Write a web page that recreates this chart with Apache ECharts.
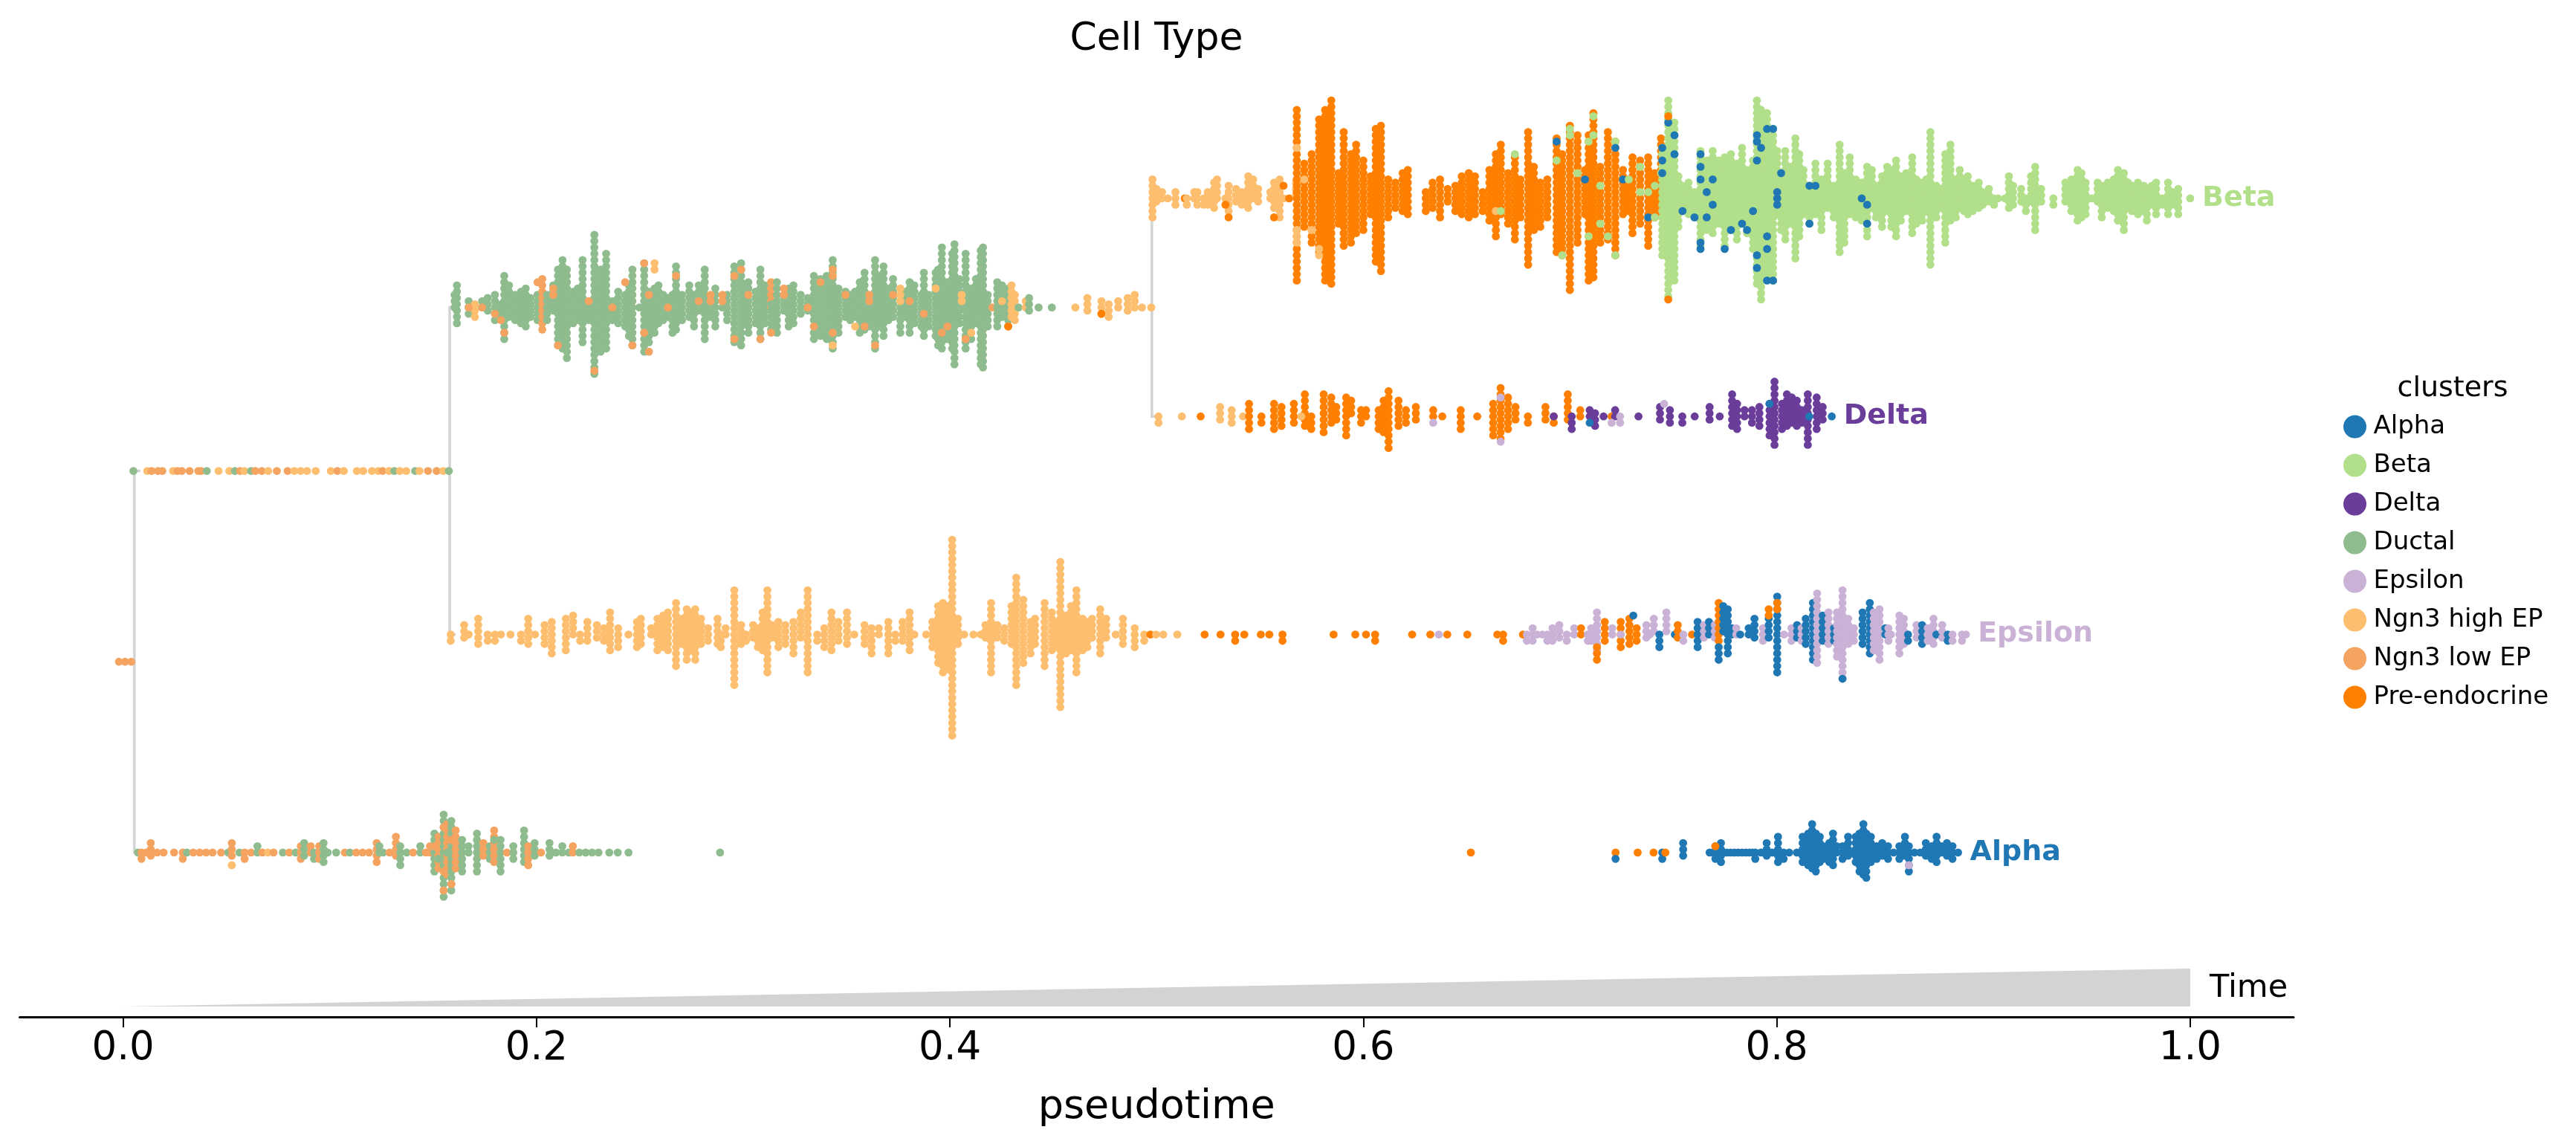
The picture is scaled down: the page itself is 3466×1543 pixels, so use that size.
<!DOCTYPE html>
<html>
<head>
<meta charset="utf-8">
<script src="https://cdn.jsdelivr.net/npm/echarts@6/dist/echarts.min.js"></script>
<style>html,body{margin:0;padding:0;background:#fff}#c{width:3466px;height:1543px}</style>
</head>
<body>
<div id="c"></div>
<script>
// ---------------- data ----------------
const clusters = ['Alpha','Beta','Delta','Ductal','Epsilon','Ngn3 high EP','Ngn3 low EP','Pre-endocrine'];
const tickValues = [0.0, 0.2, 0.4, 0.6, 0.8, 1.0];

// tree nodes: [pseudotime, child level top, child level bottom]
const treeLinks = [[0.0055,1.25,3],[0.158,0.5,2],[0.4977,0,1]];
// leaf / segment levels (dendrogram order)
const levelRoot = 2.125, levelSeg1 = 1.25, levelSeg2 = 0.5;
const levelBeta = 0, levelDelta = 1, levelEps = 2, levelAlpha = 3;

// swarm columns: [pseudotime, dots above, dots below, cluster index]
const rootCols = [[-0.002,0,0,6],[0.001,0,0,6],[0.004,0,0,6]];

const seg1Cols = [[0.005,0,0,3],[0.0117,0,0,5],[0.0138,0,0,6],[0.0169,0,0,6],[0.019,0,0,6],[0.0242,0,0,5],[0.0263,0,0,6],[0.0284,0,0,6],[0.0322,0,0,6],[0.0364,0,0,6],[0.0378,0,0,6],[0.0405,0,0,3],[0.0462,0,0,5],[0.0514,0,0,5],[0.0541,0,0,3],[0.0566,0,0,6],[0.0587,0,0,5],[0.0619,0,0,3],[0.064,0,0,6],[0.0671,0,0,6],[0.0702,0,0,5],[0.0744,0,0,6],[0.0796,0,0,6],[0.0828,0,0,5],[0.0859,0,0,5],[0.089,0,0,5],[0.0932,0,0,5],[0.1005,0,0,5],[0.1037,0,0,6],[0.1068,0,0,5],[0.1131,0,0,5],[0.1162,0,0,5],[0.1204,0,0,5],[0.1235,0,0,5],[0.1256,0,0,6],[0.1287,0,0,5],[0.1312,0,0,3],[0.1339,0,0,5],[0.137,0,0,5],[0.1413,0,0,3],[0.1434,0,0,5],[0.1475,0,0,6],[0.1517,0,0,6],[0.1549,0,0,5],[0.1576,0,0,3]];

const alphaCols = [[0.0072,0,0,3],[0.0089,0,1,6],[0.0113,0,0,6],[0.0134,1,1,6],[0.0165,0,0,6],[0.0196,0,0,6],[0.0247,0,0,6],[0.0289,0,1,6],[0.0309,0,0,3],[0.034,0,0,6],[0.0371,0,0,6],[0.0402,0,0,6],[0.0433,0,0,6],[0.0474,0,0,6],[0.0509,0,0,3],[0.0526,1,1,6],[0.0563,0,0,3],[0.0588,0,1,6],[0.0619,0,0,6],[0.065,1,0,3],[0.0674,0,0,6],[0.0701,0,0,5],[0.0728,0,0,6],[0.0773,0,0,3],[0.0804,0,0,6],[0.0835,0,0,3],[0.086,1,1,6],[0.0876,1,1,3],[0.0908,1,0,6],[0.0924,0,1,3],[0.0949,1,1,6],[0.097,1,2,3],[0.099,0,0,3],[0.1031,0,0,3],[0.1073,0,0,6],[0.1097,0,0,3],[0.1128,0,0,6],[0.1159,0,0,6],[0.119,0,0,6],[0.1227,1,2,6],[0.124,1,0,3],[0.1258,0,0,3],[0.1289,0,0,6],[0.132,2,1,6],[0.1341,1,2,3],[0.1372,0,0,3],[0.1403,0,0,6],[0.1438,1,0,3],[0.1465,0,0,6],[0.1485,1,0,6],[0.1506,3,3,3],[0.1526,2,3,6],[0.1551,6,7,3],[0.1568,4,4,6],[0.1588,5,6,3],[0.1609,3,3,6],[0.164,2,3,3],[0.1671,1,0,3],[0.1712,3,3,3],[0.1743,1,1,6],[0.1774,1,1,3],[0.1795,3,2,6],[0.1826,2,3,3],[0.1857,0,0,6],[0.1888,1,1,3],[0.194,3,2,3],[0.196,1,2,6],[0.1991,1,1,3],[0.2022,0,0,6],[0.2063,1,1,3],[0.2094,0,0,3],[0.2125,1,0,3],[0.2156,0,0,3],[0.2176,1,0,6],[0.2207,0,0,3],[0.2238,0,0,3],[0.2269,0,0,3],[0.23,0,0,3],[0.2352,0,0,3],[0.2393,0,0,3],[0.2445,0,0,3],[0.2888,0,0,3],
[0.652,0,0,7],[0.722,0,0,7],[0.7327,0,0,7],[0.7404,0,0,7],[0.7446,0,1,0],[0.7547,1,1,0],[0.7675,0,0,0],[0.7689,0,0,0],[0.7703,1,1,0],[0.773,1,2,0],[0.7758,0,0,0],[0.7776,0,0,0],[0.7795,0,0,0],[0.7813,0,0,0],[0.7832,0,0,0],[0.785,0,0,0],[0.7868,0,0,0],[0.7882,0,0,0],[0.7896,0,1,0],[0.7923,0,0,0],[0.7937,0,0,0],[0.7951,1,1,0],[0.7978,0,0,0],[0.8006,2,2,0],[0.8033,0,1,0],[0.806,0,0,0],[0.8097,0,0,0],[0.8125,2,2,0],[0.8152,3,2,0],[0.8171,4,3,0],[0.8189,3,3,0],[0.8208,2,2,0],[0.8226,1,1,0],[0.8254,1,2,0],[0.8272,3,2,0],[0.829,1,0,0],[0.8318,1,1,0],[0.8345,2,1,0],[0.8364,0,0,0],[0.8382,2,2,0],[0.84,3,3,0],[0.8419,4,4,0],[0.8433,3,4,0],[0.8455,2,2,0],[0.8483,1,1,0],[0.851,1,1,0],[0.8538,1,1,0],[0.8565,0,0,0],[0.8593,1,1,0],[0.862,2,1,0],[0.8639,1,3,0],[0.8666,0,0,0],[0.8694,0,0,0],[0.8721,1,1,0],[0.8749,1,1,0],[0.8773,2,2,0],[0.8795,1,0,0],[0.8823,1,1,0],[0.885,1,1,0],[0.8877,0,0,0]];
// single overlay dots: [pseudotime, dot index (+ up / - down), cluster index]
const alphaAcc = [[0.0526,-2,5],[0.1506,1,6],[0.1551,4,6],[0.1551,-3,6],[0.1551,-6,6],[0.1588,2,6],[0.1588,-5,6],[0.1526,-1,3],[0.1568,0,3],[0.1795,2,3],[0.722,-1,0],[0.7461,0,7],[0.7703,1,7],[0.8639,-2,4]];

const seg2Cols = [[0.1604,2,0,3],[0.1615,3,3,3],[0.1672,1,1,3],[0.1702,0,2,5],[0.1737,1,0,3],[0.1764,1,1,3],[0.1799,2,2,3],[0.1828,0,2,3],[0.1844,5,5,3],[0.1867,3,2,3],[0.1897,2,2,3],[0.1925,2,3,3],[0.1948,3,3,3],[0.1971,1,2,3],[0.2005,2,2,3],[0.2028,4,4,6],[0.2051,2,2,3],[0.2081,3,1,3],[0.2104,6,6,3],[0.2126,7,7,3],[0.2147,6,8,3],[0.2177,2,3,3],[0.22,3,2,3],[0.2223,7,6,3],[0.2253,1,2,3],[0.228,11,11,3],[0.231,6,7,3],[0.2337,8,7,3],[0.2367,1,2,3],[0.2395,2,3,3],[0.2429,2,3,3],[0.2447,3,5,3],[0.2464,6,6,3],[0.2498,0,0,3],[0.2521,7,7,3],[0.2544,2,6,3],[0.2571,3,4,3],[0.259,3,3,3],[0.2613,2,2,3],[0.2636,1,2,3],[0.2658,2,4,3],[0.2675,6,4,3],[0.2704,2,2,3],[0.2739,3,2,3],[0.2762,2,3,3],[0.2785,3,1,3],[0.2814,6,5,3],[0.2842,0,2,3],[0.2865,3,3,3],[0.2899,0,0,3],[0.2922,2,2,3],[0.2957,6,6,3],[0.299,7,6,3],[0.3002,3,3,3],[0.3025,4,4,3],[0.306,2,3,3],[0.3083,6,5,3],[0.3106,3,3,3],[0.3135,4,0,6],[0.3135,0,4,3],[0.3163,4,4,3],[0.3197,1,1,3],[0.322,3,3,3],[0.3243,3,3,3],[0.3278,2,1,3],[0.3312,1,1,3],[0.3342,5,5,3],[0.3374,4,5,3],[0.3404,5,5,3],[0.3433,7,7,3],[0.3461,3,4,3],[0.3495,2,2,3],[0.3518,2,2,3],[0.3541,2,2,3],[0.3564,4,4,3],[0.3587,5,4,3],[0.361,0,3,3],[0.3638,7,7,3],[0.3661,5,3,3],[0.3679,6,5,3],[0.3702,3,2,3],[0.3725,4,2,3],[0.376,0,4,3],[0.3787,2,2,3],[0.3805,4,4,3],[0.3828,3,3,3],[0.3862,2,3,3],[0.3874,5,5,3],[0.3897,2,3,3],[0.3931,5,5,3],[0.3943,6,6,3],[0.3961,9,7,3],[0.3988,4,5,3],[0.4011,8,7,3],[0.4022,10,9,3],[0.4046,4,3,3],[0.4057,0,0,3],[0.4076,8,7,3],[0.4103,3,5,3],[0.4126,4,3,3],[0.4149,9,9,3],[0.416,9,10,3],[0.4183,2,3,3],[0.4206,0,0,6],[0.4229,4,3,3],[0.4252,3,2,3],[0.4282,3,3,3],[0.4298,3,2,5],[0.4314,2,2,5],[0.4332,0,0,3],[0.4367,1,0,5],[0.4383,1,1,3],[0.4429,0,0,3],[0.4493,0,0,3],[0.4607,0,0,5],[0.4665,1,1,5],[0.4733,1,1,5],[0.4768,0,2,5],[0.4814,1,0,5],[0.486,1,1,5],[0.4894,2,0,5],[0.4929,0,0,5],[0.4974,0,0,5]];
const seg2Acc = [[0.1672,0,6],[0.1737,0,6],[0.1799,-1,6],[0.1828,-2,6],[0.1844,-4,6],[0.2005,4,6],[0.2081,2,6],[0.2081,3,6],[0.2104,-6,6],[0.2253,1,6],[0.228,-10,6],[0.2367,0,6],[0.2429,4,6],[0.2464,-6,6],[0.2521,7,6],[0.2521,-4,6],[0.2544,2,6],[0.2544,-7,6],[0.2571,6,5],[0.2571,7,5],[0.2636,0,6],[0.2675,5,6],[0.2785,1,6],[0.2842,1,6],[0.2842,2,6],[0.2899,1,6],[0.2899,2,6],[0.2957,5,6],[0.2957,-5,6],[0.299,6,6],[0.3025,2,6],[0.3083,-5,6],[0.3135,-4,6],[0.3197,2,6],[0.3197,3,6],[0.3312,0,6],[0.3342,-3,6],[0.3374,4,6],[0.3433,6,6],[0.3433,5,6],[0.3433,-4,6],[0.3433,-6,5],[0.3495,2,6],[0.3541,-3,5],[0.3587,-3,6],[0.361,1,6],[0.361,2,6],[0.3638,-6,6],[0.3725,2,6],[0.376,1,5],[0.376,2,5],[0.376,3,5],[0.3805,1,6],[0.3874,-1,6],[0.3931,3,5],[0.3961,-4,6],[0.3988,-3,6],[0.4057,1,5],[0.4057,2,5],[0.4076,-5,6],[0.4103,-4,5],[0.4252,1,5],[0.4282,-3,7],[0.4733,-1,7]];

const epsCols = [[0.1585,0,1,5],[0.165,1,1,5],[0.1672,0,0,5],[0.1718,2,2,5],[0.1764,0,1,5],[0.1799,0,1,5],[0.1828,0,0,5],[0.1874,0,0,5],[0.1925,0,1,5],[0.196,2,2,5],[0.1993,0,0,5],[0.2039,1,2,5],[0.2074,2,3,5],[0.2142,2,3,5],[0.2177,3,0,5],[0.2211,0,1,5],[0.2246,2,1,5],[0.2292,1,1,5],[0.2326,1,1,5],[0.2356,3,3,5],[0.2395,1,2,5],[0.2445,0,0,5],[0.2486,2,2,5],[0.2505,2,2,5],[0.2555,1,0,5],[0.2585,2,3,5],[0.2613,3,2,5],[0.2636,3,3,5],[0.2675,5,5,5],[0.2704,2,2,5],[0.2727,4,4,5],[0.275,3,3,5],[0.2768,4,4,5],[0.2796,2,2,5],[0.283,1,1,5],[0.2876,2,2,5],[0.2892,0,2,5],[0.2915,1,0,5],[0.2957,7,8,5],[0.299,1,2,5],[0.3014,0,1,5],[0.3048,1,1,5],[0.3071,1,2,5],[0.3094,3,3,5],[0.3117,7,6,5],[0.314,1,1,5],[0.317,2,2,5],[0.3204,1,2,5],[0.3243,2,3,5],[0.3278,3,1,5],[0.3312,7,6,5],[0.3358,0,1,5],[0.3392,1,2,5],[0.3427,3,3,5],[0.3461,2,1,5],[0.3502,3,2,5],[0.3537,0,0,5],[0.3587,1,2,5],[0.3621,1,3,5],[0.3656,1,0,5],[0.3702,2,3,5],[0.3736,0,1,5],[0.3771,2,1,5],[0.3805,3,3,5],[0.3828,0,0,5],[0.3885,0,0,5],[0.3915,2,2,5],[0.3943,4,5,5],[0.3966,5,6,5],[0.3988,4,6,5],[0.4011,15,16,5],[0.4039,2,2,5],[0.4069,0,0,5],[0.4114,0,0,5],[0.4149,0,0,5],[0.4172,1,1,5],[0.4199,5,6,5],[0.4229,1,1,5],[0.4263,1,1,5],[0.4298,4,2,5],[0.4321,9,8,5],[0.4355,5,5,5],[0.439,2,3,5],[0.4412,2,2,5],[0.4458,5,5,5],[0.4493,3,3,5],[0.4516,2,2,5],[0.4534,11,12,5],[0.4562,3,3,5],[0.4585,4,3,5],[0.4612,7,6,5],[0.4642,2,3,5],[0.4665,2,2,5],[0.4688,2,1,5],[0.4727,4,3,5],[0.4756,2,1,5],[0.4802,0,0,5],[0.4837,2,2,5],[0.4894,1,2,5],[0.494,0,1,5],[0.497,0,0,7],[0.4997,0,0,5],[0.5032,0,0,5],[0.51,0,0,5],
[0.5232,0,0,7],[0.5309,0,0,7],[0.538,0,1,7],[0.5424,0,0,7],[0.5504,0,0,7],[0.5545,0,0,7],[0.5609,0,1,7],[0.5856,0,0,7],[0.5961,0,0,7],[0.6013,0,0,7],[0.6057,0,1,7],[0.6236,0,0,7],[0.6324,0,0,7],[0.6365,0,0,4],[0.6406,0,0,7],[0.6503,0,0,7],[0.6648,0,0,7],[0.6676,0,1,7],[0.6772,0,0,7],
[0.6791,0,1,4],[0.6819,1,1,4],[0.684,0,0,4],[0.6866,0,0,4],[0.689,0,1,4],[0.6915,1,1,4],[0.6948,1,1,4],[0.6984,0,1,4],[0.702,1,0,4],[0.7053,1,0,7],[0.7086,0,1,4],[0.7102,1,1,4],[0.713,3,3,4],[0.7168,2,1,7],[0.7204,1,0,4],[0.7245,2,2,7],[0.7287,2,2,7],[0.7322,1,1,7],[0.7369,1,1,4],[0.7386,0,0,4],[0.7405,2,0,4],[0.7432,0,2,0],[0.7466,3,0,4],[0.7507,0,0,0],[0.7521,1,1,7],[0.7548,0,1,4],[0.759,0,0,7],[0.7617,2,2,0],[0.7648,1,1,4],[0.7672,2,0,0],[0.77,1,1,4],[0.7719,5,1,7],[0.7741,4,0,0],[0.7763,4,3,0],[0.7782,1,0,0],[0.7804,1,0,4],[0.7823,0,0,0],[0.7864,1,0,0],[0.7892,2,1,0],[0.7933,1,1,4],[0.7961,2,1,0],[0.8002,6,6,0],[0.8035,0,0,4],[0.8071,1,1,4],[0.8098,1,1,0],[0.812,1,1,4],[0.814,2,2,0],[0.8175,5,4,0],[0.8195,6,5,4],[0.8222,3,1,0],[0.825,3,2,4],[0.8277,1,1,0],[0.8291,3,4,4],[0.8318,7,7,4],[0.8346,2,2,4],[0.8373,1,1,4],[0.8415,3,2,0],[0.845,5,3,0],[0.8469,3,3,4],[0.8497,4,4,4],[0.8525,1,0,0],[0.854,1,1,4],[0.8552,0,0,4],[0.8593,3,3,4],[0.8615,2,2,4],[0.8635,0,1,0],[0.8676,1,1,4],[0.869,1,0,4],[0.8703,1,2,0],[0.873,1,1,4],[0.8758,2,2,4],[0.8772,0,0,0],[0.88,1,1,4],[0.8827,0,1,0],[0.885,0,1,4],[0.8896,0,1,4],[0.8915,0,0,4]];
const epsAcc = [[0.713,-2,7],[0.713,-3,7],[0.713,-4,7],[0.7245,0,4],[0.7306,3,0],[0.7719,-2,0],[0.7719,-3,0],[0.7719,-4,0],[0.7961,3,7],[0.7961,4,7],[0.8002,4,7],[0.8002,5,7],[0.8318,-7,0]];

const deltaCols = [[0.5009,0,1,5],[0.5122,0,0,5],[0.5213,0,0,7],[0.5307,1,1,5],[0.5363,1,1,5],[0.5418,0,0,5],[0.5447,2,2,7],[0.5507,0,1,7],[0.5568,2,2,7],[0.5604,1,2,7],[0.5664,2,1,7],[0.5717,3,2,7],[0.5748,0,2,7],[0.5808,3,3,7],[0.5845,3,1,7],[0.5869,1,1,7],[0.5917,3,3,7],[0.5941,2,0,7],[0.5989,1,1,7],[0.6013,1,0,7],[0.6074,1,2,7],[0.6098,2,3,7],[0.6122,4,5,7],[0.617,2,2,7],[0.6206,1,1,7],[0.6254,1,1,7],[0.6338,1,0,7],[0.6382,0,0,7],[0.6471,1,2,7],[0.6551,0,0,7],[0.6628,2,3,7],[0.6664,4,4,7],[0.67,3,2,7],[0.6736,1,1,7],[0.6796,0,1,7],[0.6881,1,1,7],[0.6921,0,1,7],[0.6989,3,1,7],[0.7008,0,2,2],[0.7049,1,0,7],[0.7095,1,0,2],[0.7121,0,2,2],[0.7162,0,0,2],[0.7201,0,0,7],[0.7218,1,0,2],[0.7242,0,1,4],[0.7331,0,0,2],[0.7435,1,1,2],[0.7483,1,1,2],[0.7543,0,1,2],[0.7603,0,0,2],[0.7675,1,1,2],[0.7724,0,0,2],[0.7784,3,2,2],[0.7808,2,2,2],[0.7844,1,0,2],[0.788,1,1,2],[0.7916,1,2,2],[0.7965,2,3,2],[0.7989,5,5,2],[0.8025,2,2,2],[0.8049,3,2,2],[0.8073,3,1,2],[0.8097,2,2,2],[0.8121,1,1,2],[0.815,3,5,2],[0.8193,3,2,2],[0.8222,1,1,2],[0.8266,0,0,0]];
const deltaAcc = [[0.57,0,5],[0.6338,-1,4],[0.6664,3,4],[0.6664,-4,4],[0.6921,0,2],[0.7095,-1,0],[0.7201,-1,4],[0.7455,2,4],[0.7965,2,0],[0.8157,0,0]];

const betaCols = [[0.498,3,3,5],[0.4999,1,1,5],[0.5026,1,0,5],[0.5054,0,0,5],[0.5091,1,1,5],[0.5136,0,0,7],[0.5146,0,1,5],[0.5182,1,0,5],[0.5197,1,1,5],[0.5228,0,1,5],[0.5247,1,1,5],[0.5278,2,2,5],[0.5292,3,0,5],[0.5333,0,0,5],[0.5348,2,2,5],[0.5384,1,1,5],[0.5412,1,1,5],[0.5443,3,2,5],[0.5467,3,0,5],[0.5491,1,1,5],[0.555,1,0,5],[0.5568,2,2,5],[0.5595,3,3,5],[0.5614,0,0,5],[0.5641,0,0,7],[0.5674,2,0,5],
[0.5678,14,13,7],[0.5714,5,5,7],[0.575,7,7,7],[0.5786,12,9,7],[0.5815,14,13,7],[0.5845,15,14,7],[0.588,4,4,7],[0.5905,10,8,7],[0.594,7,7,7],[0.5965,8,6,7],[0.6,6,5,7],[0.6035,3,3,7],[0.606,11,10,7],[0.6085,11,12,7],[0.612,3,3,7],[0.6155,2,2,7],[0.619,4,2,7],[0.6215,4,3,7],
[0.6302,1,2,7],[0.6335,2,2,7],[0.6371,3,3,7],[0.6408,1,1,7],[0.6445,2,2,7],[0.6476,3,3,7],[0.651,4,3,7],[0.654,3,3,7],[0.6577,1,2,7],[0.661,4,4,7],[0.6641,7,6,7],[0.6665,8,3,7],[0.67,4,4,7],[0.6733,6,7,7],[0.676,3,3,7],[0.6797,10,11,7],[0.6825,5,5,7],[0.6856,2,5,7],[0.689,3,3,7],[0.6935,9,9,7],[0.6962,7,9,7],[0.6999,11,15,7],[0.7036,10,7,7],[0.7072,4,3,7],[0.709,10,13,7],[0.7113,13,13,7],[0.7146,5,7,7],[0.7183,10,7,7],[0.7219,9,9,7],[0.7256,4,3,7],[0.7284,3,2,7],[0.7302,6,6,7],[0.7339,6,4,7],[0.7378,6,8,7],[0.741,4,3,7],[0.744,9,3,7],
[0.7446,8,9,1],[0.7475,15,16,1],[0.7505,12,13,1],[0.7524,3,5,1],[0.7544,2,2,1],[0.7573,2,3,1],[0.7602,1,3,1],[0.7631,7,8,1],[0.7661,6,5,1],[0.769,7,6,1],[0.7719,6,4,1],[0.7748,6,8,1],[0.7778,7,5,1],[0.7807,5,7,1],[0.7832,8,4,1],[0.7856,4,6,1],[0.7885,6,8,1],[0.7904,15,14,1],[0.7924,14,16,1],[0.7953,13,13,1],[0.7982,11,13,1],[0.8002,7,3,1],[0.8021,4,5,1],[0.8041,7,7,1],[0.8066,5,4,1],[0.809,9,10,1],[0.8109,7,6,1],[0.8129,4,3,1],[0.8158,2,4,1],[0.8187,5,3,1],[0.8216,3,5,1],[0.8246,5,2,1],[0.8275,2,3,1],[0.8304,8,9,1],[0.8327,4,7,1],[0.8353,6,3,1],[0.8382,3,3,1],[0.8411,2,4,1],[0.8437,5,6,1],[0.846,4,2,1],[0.848,2,3,1],[0.8509,3,5,1],[0.8534,5,2,1],[0.8554,4,5,1],[0.8577,6,6,1],[0.86,3,4,1],[0.8626,4,2,1],[0.8655,6,6,1],[0.8675,3,4,1],[0.8704,2,4,1],[0.8723,3,2,1],[0.8743,10,11,1],[0.8772,2,3,1],[0.8792,1,2,1],[0.8815,7,7,1],[0.884,8,4,1],[0.8866,3,3,1],[0.8885,4,2,1],[0.8905,3,2,1],[0.8924,3,3,1],[0.8948,2,2,1],[0.8977,2,2,1],[0.8996,1,1,1],[0.9026,1,1,1],[0.9051,0,1,1],[0.907,0,0,1],[0.9104,0,0,1],[0.9123,3,2,1],[0.9143,2,1,1],[0.9182,1,1,1],[0.9205,0,2,1],[0.923,3,1,1],[0.925,5,5,1],[0.9279,1,1,1],[0.9338,0,1,1],[0.9396,2,1,1],[0.9425,3,2,1],[0.9455,4,4,1],[0.9474,4,3,1],[0.9494,2,3,1],[0.9523,0,0,1],[0.9552,2,1,1],[0.9572,2,3,1],[0.9601,2,2,1],[0.963,3,2,1],[0.965,4,4,1],[0.9679,4,5,1],[0.9699,2,2,1],[0.9718,2,2,1],[0.9747,2,3,1],[0.9776,2,2,1],[0.979,1,4,1],[0.9815,2,1,1],[0.9835,2,3,1],[0.9864,0,1,1],[0.9893,2,3,1],[0.9913,1,1,1],[0.9942,1,3,1],[1.0,0,0,1]];
const betaAcc = [[0.5333,-1,7],[0.5348,-3,7],[0.5568,-3,7],[0.5614,2,7],[0.5678,8,5],[0.5678,-5,5],[0.5678,-6,5],[0.5678,-7,5],[0.5714,3,5],[0.575,-5,5],[0.5786,-9,5],[0.5786,-8,5],[0.6641,-2,5],[0.6665,-2,1],[0.6733,7,1],[0.6935,6,1],[0.6935,9,0],[0.6962,-9,1],[0.6999,10,1],[0.6999,11,1],[0.7036,4,1],[0.7072,3,0],[0.709,9,1],[0.709,-6,1],[0.7113,13,1],[0.7113,10,1],[0.7146,-4,1],[0.7146,2,1],[0.7183,-6,1],[0.7219,9,1],[0.7219,-9,1],[0.7219,8,0],[0.7256,3,0],[0.7284,3,1],[0.7339,1,1],[0.7339,5,1],[0.7378,1,1],[0.7378,-3,0],[0.741,2,1],[0.741,-3,1],[0.744,4,1],[0.7446,8,0],[0.7446,6,0],[0.7446,4,0],[0.7475,12,0],[0.7475,13,7],[0.7475,-16,7],[0.7505,10,0],[0.7505,7,0],[0.7544,-2,0],[0.7602,-3,0],[0.7631,7,0],[0.7631,5,0],[0.7631,3,0],[0.7631,-7,0],[0.7631,-8,0],[0.7661,1,0],[0.7661,-3,0],[0.769,3,0],[0.769,-1,0],[0.7748,-8,0],[0.7778,-5,0],[0.7832,-4,0],[0.7856,-5,0],[0.7885,-2,0],[0.7904,10,0],[0.7904,9,0],[0.7904,6,0],[0.7904,-9,0],[0.7904,-11,0],[0.7924,8,0],[0.7953,11,0],[0.7953,-6,0],[0.7953,-8,0],[0.7953,-13,0],[0.7982,11,0],[0.7982,-13,0],[0.8002,1,0],[0.8002,0,0],[0.8002,-1,0],[0.8021,4,0],[0.8158,2,0],[0.8158,-4,0],[0.8187,2,0],[0.8411,0,0],[0.8437,-1,0],[0.8437,-4,0]];

// end-of-branch labels: [text, cluster index]
const branchLabels = [['Beta',1],['Delta',2],['Epsilon',4],['Alpha',0]];
const timeRange = [0, 1];

// ---------------- styling ----------------
const PALETTE = ['#1f78b4','#b2df8a','#6a3d9a','#8fbc8f','#cab2d6','#fdbf6f','#f4a460','#ff7f00'];
const FONT = '"DejaVu Sans", sans-serif';
const STEP = 8.5, R = 5.4;

// ---------------- build series data ----------------
// item: [pseudotime, level, lowest dot index, highest dot index, cluster, half-step stagger flag]
const swarm = [];
function addBranch(cols, acc, level) {
  cols.forEach((c, i) => swarm.push([c[0], level, -c[2], c[1], c[3], (i % 2 === 1 && c[1] + c[2] >= 2) ? 1 : 0]));
  (acc || []).forEach(a => swarm.push([a[0], level, a[1], a[1], a[2], 0]));
}
addBranch(rootCols, null, levelRoot);
addBranch(seg1Cols, null, levelSeg1);
addBranch(alphaCols, alphaAcc, levelAlpha);
addBranch(seg2Cols, seg2Acc, levelSeg2);
addBranch(epsCols, epsAcc, levelEps);
addBranch(deltaCols, deltaAcc, levelDelta);
addBranch(betaCols, betaAcc, levelBeta);

const maxX = cols => Math.max.apply(null, cols.map(c => c[0]));
const labelData = [
  [maxX(betaCols), levelBeta, 0],
  [maxX(deltaCols), levelDelta, 1],
  [maxX(epsCols), levelEps, 2],
  [maxX(alphaCols), levelAlpha, 3]
];

const chart = echarts.init(document.getElementById('c'), null, {renderer: 'canvas', width: 3466, height: 1543});

const option = {
  animation: false,
  backgroundColor: '#ffffff',
  textStyle: {fontFamily: FONT},
  grid: {left: 26.5, right: 380, top: 0, bottom: 175, containLabel: false},
  xAxis: {
    type: 'value', min: -0.05, max: 1.05,
    axisLine: {show: true, onZero: false, lineStyle: {color: '#000', width: 3}},
    axisTick: {show: true, length: 14, lineStyle: {color: '#000', width: 2}, customValues: tickValues},
    axisLabel: {customValues: tickValues, formatter: v => v.toFixed(1), fontSize: 53, color: '#000', margin: 17, fontFamily: FONT},
    splitLine: {show: false},
    name: 'pseudotime', nameLocation: 'middle', nameGap: 95,
    nameTextStyle: {fontSize: 54, color: '#000', fontFamily: FONT}
  },
  yAxis: {type: 'value', min: -0.91, max: 3.754, inverse: true, show: false},
  legend: {
    orient: 'vertical', left: 3153, top: 557, padding: 0,
    itemWidth: 40, itemHeight: 31, itemGap: 18, icon: 'circle',
    selectedMode: false,
    itemStyle: {opacity: 1},
    textStyle: {fontSize: 34, lineHeight: 34, color: '#000', fontFamily: FONT},
    data: clusters
  },
  graphic: [
    {type: 'text', x: 1556, y: 53, style: {text: 'Cell Type', fontSize: 52, fontFamily: FONT, fill: '#000', align: 'center', verticalAlign: 'middle'}},
    {type: 'text', x: 3300, y: 523, style: {text: 'clusters', fontSize: 38, fontFamily: FONT, fill: '#000', align: 'center', verticalAlign: 'middle'}}
  ],
  series: [
    // time wedge
    {
      type: 'custom', silent: true, clip: false, z: 1,
      data: [timeRange],
      renderItem: function (params, api) {
        const a = api.coord([api.value(0), 3.754]);
        const b = api.coord([api.value(1), 3.754]);
        return {type: 'group', children: [
          {type: 'polygon', shape: {points: [[a[0], a[1] - 14], [b[0], b[1] - 65], [b[0], b[1] - 14]]}, style: {fill: '#d3d3d3'}},
          {type: 'text', x: b[0] + 26, y: b[1] - 38, style: {text: 'Time', fontSize: 43, fontFamily: FONT, fill: '#000', align: 'left', verticalAlign: 'middle'}}
        ]};
      }
    },
    // tree connectors
    {
      type: 'custom', silent: true, clip: false, z: 2,
      data: treeLinks,
      renderItem: function (params, api) {
        const t = api.coord([api.value(0), api.value(1)]);
        const b = api.coord([api.value(0), api.value(2)]);
        return {type: 'polyline', shape: {points: [[t[0] + 8, t[1]], [t[0], t[1]], [b[0], b[1]], [b[0] + 8, b[1]]]},
          style: {stroke: '#d3d3d3', lineWidth: 3.5, fill: null}};
      }
    },
    // swarm dots
    {
      type: 'custom', silent: true, clip: false, z: 3,
      data: swarm,
      renderItem: function (params, api) {
        const p = api.coord([api.value(0), api.value(1)]);
        const lo = api.value(2), hi = api.value(3), col = PALETTE[api.value(4)];
        const s = api.value(5) ? 0.5 : 0;
        const children = [];
        for (let k = lo; k <= hi; k++) {
          children.push({type: 'circle', shape: {cx: p[0], cy: p[1] - (k + s) * STEP, r: R}, style: {fill: col}});
        }
        return {type: 'group', children: children};
      }
    },
    // branch labels
    {
      type: 'custom', silent: true, clip: false, z: 4,
      data: labelData,
      renderItem: function (params, api) {
        const p = api.coord([api.value(0), api.value(1)]);
        const lb = branchLabels[api.value(2)];
        return {type: 'text', x: p[0] + 16, y: p[1], style: {text: lb[0], fontSize: 38, fontWeight: 'bold', fontFamily: FONT, fill: PALETTE[lb[1]], align: 'left', verticalAlign: 'middle'}};
      }
    }
  ].concat(clusters.map((name, i) => ({type: 'scatter', name: name, data: [], itemStyle: {color: PALETTE[i], opacity: 1}})))
};
chart.setOption(option);
</script>
</body>
</html>
